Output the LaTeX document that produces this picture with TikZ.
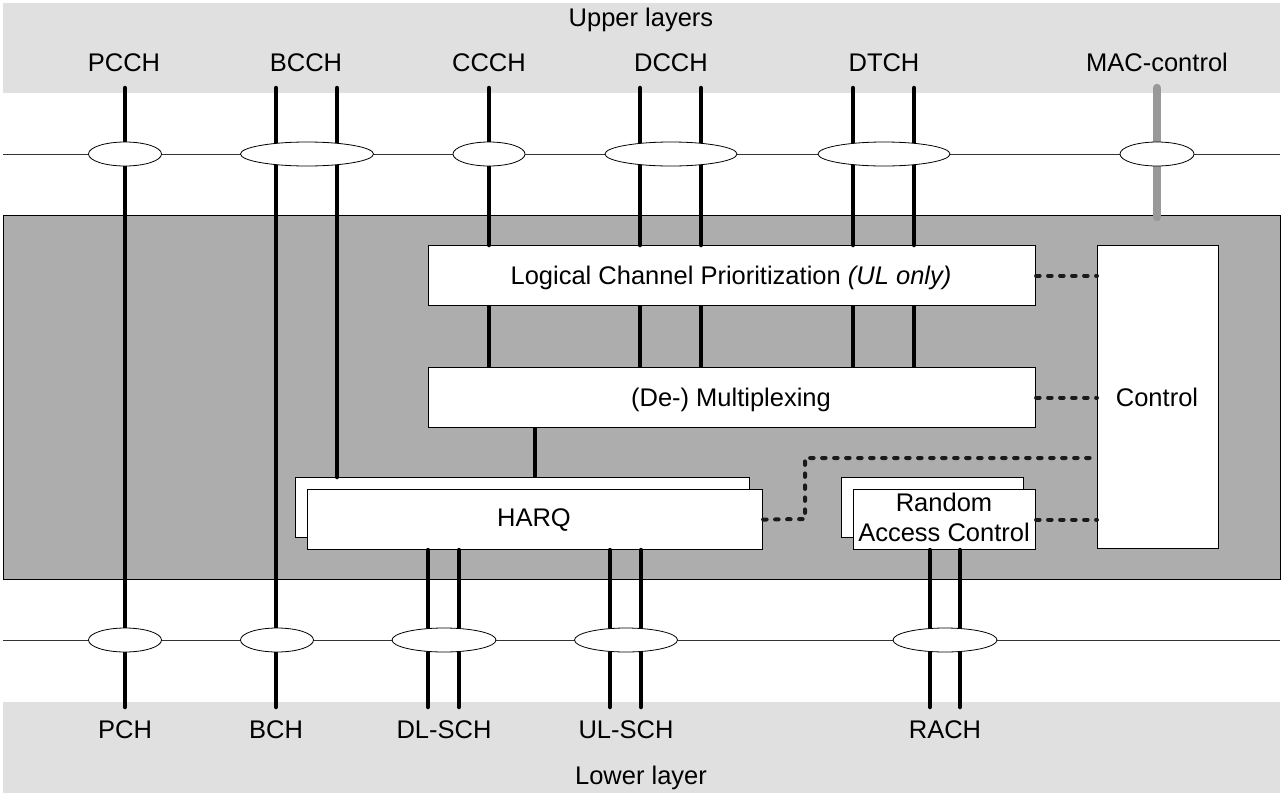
\documentclass[tikz,border=0pt]{standalone}
\usepackage{fontspec}
\setmainfont{Liberation Sans}
\usetikzlibrary{shapes.geometric}
\definecolor{bandgray}{HTML}{E0E0E0}
\definecolor{macgray}{HTML}{ADADAD}
\definecolor{ctrlgray}{HTML}{999999}
\definecolor{dotgray}{HTML}{1A1A1A}
\begin{document}
\begin{tikzpicture}[x=1pt,y=-1pt,
  txt/.style={font=\fontsize{25.5}{30}\selectfont, inner sep=0, anchor=base},
  blk/.style={draw=black, fill=white, line width=1.1pt, inner sep=0, anchor=north west},
  chan/.style={line width=4.5pt, line cap=round},
  oval/.style={ellipse, draw=black, fill=white, line width=0.8pt, minimum height=24pt, inner sep=0},
  ctl/.style={line width=4pt, line cap=round, dash pattern=on 3.5pt off 8.5pt, draw=dotgray},
  hline/.style={line width=0.9pt, draw=black!80},
]
\useasboundingbox (0,0) rectangle (1283,796);
% bands
\fill[bandgray] (3,3) rectangle (1280,93);
\fill[bandgray] (3,702) rectangle (1280,793);
\node[txt] (upper) at (641,26) {Upper layers};
\node[txt] (lower) at (641,784) {Lower layer};
% horizontal SAP lines
\coordinate (tl) at (3,154); \coordinate (tr) at (1280,154);
\coordinate (bl) at (3,640); \coordinate (br) at (1280,640);
\draw[hline] (tl) -- (tr);
\draw[hline] (bl) -- (br);
% MAC entity
\node[draw=black, fill=macgray, line width=1.1pt, inner sep=0, anchor=north west,
  minimum width=1277pt, minimum height=364pt] (mac) at (3,215) {};
% blocks
\node[blk, minimum width=607pt, minimum height=60pt] (lcp) at (428,245) {};
\node[blk, minimum width=607pt, minimum height=60pt] (mux) at (428,367) {};
\node[blk, minimum width=121pt, minimum height=303pt] (ctrl) at (1097,245) {};
\node[blk, minimum width=454pt, minimum height=60pt] (harqb) at (295,477) {};
\node[blk, minimum width=455pt, minimum height=60pt] (harq) at (307,489) {};
\node[blk, minimum width=182pt, minimum height=60pt] (racb) at (841,477) {};
\node[blk, minimum width=182pt, minimum height=60pt] (rac) at (853,489) {};
% channel end points
\foreach \n/\x in {pcch/125, bccha/276, bcchb/337, ccch/489, dccha/640, dcchb/701, dtcha/853, dtchb/914}
  \coordinate (\n) at (\x,88);
\foreach \n/\x in {pch/125, bch/276, dlscha/428, dlschb/459, ulscha/610, ulschb/641, racha/930, rachb/960}
  \coordinate (\n) at (\x,707);
\coordinate (macc) at (1157,88);
\coordinate (macd) at (1157,217);
% channels
\draw[chan] (pcch) -- (pch);
\draw[chan] (bccha) -- (bch);
\draw[chan] (bcchb) -- (bcchb |- harqb.north);
\foreach \n in {ccch, dccha, dcchb, dtcha, dtchb} {
  \draw[chan] (\n) -- (\n |- lcp.north);
  \draw[line width=4.5pt] (\n |- lcp.south) -- (\n |- mux.north);
}
\draw[line width=4.5pt] (mux.south -| 535,0) -- (harqb.north -| 535,0);
\foreach \n in {dlscha, dlschb, ulscha, ulschb} \draw[chan] (harq.south -| \n) -- (\n);
\foreach \n in {racha, rachb} \draw[chan] (rac.south -| \n) -- (\n);
\draw[line width=8.5pt, line cap=round, draw=ctrlgray] (macc) -- (macd);
% ovals top
\node[oval, minimum width=73pt] (o1) at (125,154) {};
\node[oval, minimum width=133pt] (o2) at (307,154) {};
\node[oval, minimum width=72pt] (o3) at (489,154) {};
\node[oval, minimum width=132pt] (o4) at (671,154) {};
\node[oval, minimum width=132pt] (o5) at (884,154) {};
\node[oval, minimum width=74pt] (o6) at (1157,154) {};
% ovals bottom
\node[oval, minimum width=73pt] (u1) at (125,640) {};
\node[oval, minimum width=73pt] (u2) at (277,640) {};
\node[oval, minimum width=104pt] (u3) at (444,640) {};
\node[oval, minimum width=103pt] (u4) at (626,640) {};
\node[oval, minimum width=104pt] (u5) at (945,640) {};
% control links
\draw[ctl] (lcp.east) -- (lcp.east -| ctrl.west);
\draw[ctl] (mux.east) -- (mux.east -| ctrl.west);
\draw[ctl] (harq.east) -- (805,519) -- (805,458) -- (ctrl.west |- 0,458);
\draw[ctl] (rac.east) -- (rac.east -| ctrl.west);
% labels
\node[txt] at (124,71) {PCCH};
\node[txt] at (306,71) {BCCH};
\node[txt] at (489,71) {CCCH};
\node[txt] at (671,71) {DCCH};
\node[txt] at (884,71) {DTCH};
\node[txt] at (1157,71) {MAC-control};
\node[txt] at (125,738) {PCH};
\node[txt] at (276,738) {BCH};
\node[txt] at (444,738) {DL-SCH};
\node[txt] at (626,738) {UL-SCH};
\node[txt] at (945,738) {RACH};
\node[txt] at (731,284) {Logical Channel Prioritization \textit{(UL only)}};
\node[txt] at (731,406) {(De-) Multiplexing};
\node[txt] at (1157,406) {Control};
\node[txt] at (534,526) {HARQ};
\node[txt] at (944,511) {Random};
\node[txt] at (944,541) {Access Control};
\end{tikzpicture}
\end{document}
